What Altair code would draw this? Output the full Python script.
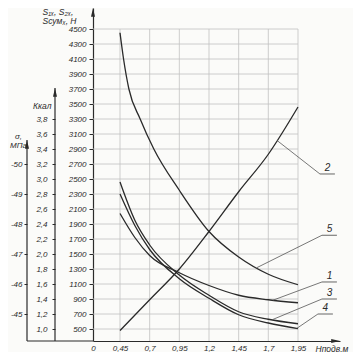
import altair as alt
import pandas as pd
import numpy as np

# ---------------- data ----------------
X_ZERO = 0.2225          # position of the "0" label (broken axis)
X_MAX = 2.304
Y_MIN = 340
Y_MAX = 4780

x_ticks = [0.45, 0.7, 0.95, 1.2, 1.45, 1.7, 1.95]
force_ticks = list(range(500, 4501, 200))
kcal_ticks = [1.0, 1.2, 1.4, 1.6, 1.8, 2.0, 2.2, 2.4, 2.6, 2.8, 3.0, 3.2, 3.4, 3.6, 3.8]
sigma_ticks = [-45, -46, -47, -48, -49, -50]

curve1_x = [0.45, 0.575, 0.7, 0.95, 1.2, 1.45, 1.7, 1.95]
curve1_y = [2040, 1720, 1480, 1250, 1080, 950, 890, 850]
curve2_x = [0.45, 0.7, 0.95, 1.2, 1.45, 1.7, 1.95]
curve2_y = [480, 890, 1300, 1800, 2330, 2830, 3460]
curve3_x = [0.45, 0.575, 0.7, 0.95, 1.2, 1.45, 1.7, 1.95]
curve3_y = [2460, 1950, 1620, 1220, 950, 730, 630, 570]
curve4_x = [0.45, 0.575, 0.7, 0.95, 1.2, 1.45, 1.7, 1.95]
curve4_y = [2300, 1880, 1560, 1170, 910, 690, 580, 505]
curve5_x = [0.45, 0.48, 0.525, 0.62, 0.735, 0.95, 1.2, 1.45, 1.7, 1.95]
curve5_y = [4450, 4100, 3700, 3300, 2900, 2350, 1800, 1460, 1230, 1090]

label_names = ['1', '2', '3', '4', '5']
label_curve_x = [1.739, 1.773, 1.731, 1.94, 1.604]
label_elbow_x = [2.152, 2.135, 2.152, 2.118, 2.152]
label_elbow_y = [1127, 2567, 900, 700, 1750]
label_line_len = 0.126

kcal_axis_top = 3713      # in N-scale units (where the Kcal arrow ends)
sigma_axis_top = 3020

# ---------------- tables ----------------
curves = {'1': (curve1_x, curve1_y), '2': (curve2_x, curve2_y), '3': (curve3_x, curve3_y),
          '4': (curve4_x, curve4_y), '5': (curve5_x, curve5_y)}
rows = []
for name, (xs, ys) in curves.items():
    for xv, yv in zip(xs, ys):
        rows.append({'curve': name, 'x': xv, 'y': yv})
curves_df = pd.DataFrame(rows)

lab_rows = []
for n, sx, ex, ey in zip(label_names, label_curve_x, label_elbow_x, label_elbow_y):
    xs, ys = curves[n]
    sy = float(np.interp(sx, xs, ys))
    lab_rows.append({'name': n, 'sx': sx, 'sy': sy, 'ex': ex, 'ey': ey,
                     'ux': ex + label_line_len, 'tx': ex + label_line_len / 2})
labels_df = pd.DataFrame(lab_rows)

vgrid_df = pd.DataFrame({'x': x_ticks, 'top': max(force_ticks), 'bottom': Y_MIN})
hgrid_df = pd.DataFrame({'y': force_ticks, 'x0': X_ZERO, 'x1': max(x_ticks)})

# ---------------- styling ----------------
W, H = 247, 333
INK = '#2a2a2a'
GRID = '#c2c2c2'
FONT = 'Liberation Sans'
BG = '#fbfbf9'
K_OFF = 38
S_OFF = 66

xscale = alt.Scale(domain=[X_ZERO, X_MAX], nice=False, zero=False)
yscale = alt.Scale(domain=[Y_MIN, Y_MAX], nice=False, zero=False)

x_axis = alt.Axis(
    values=[X_ZERO] + x_ticks,
    labelExpr="datum.value < 0.3 ? '0' : replace(format(datum.value, '.2~f'), '.', ',')",
    grid=False, ticks=False, domainColor=INK, domainWidth=1.2,
    labelPadding=3, labelFont=FONT, labelFontStyle='italic', labelFontSize=8,
    labelColor=INK, labelOverlap=False, labelFlush=False,
    title='Нподв.м', titleX=222, titleY=10, titleAlign='left', titleBaseline='alphabetic',
    titleFont=FONT, titleFontStyle='italic', titleFontWeight='normal', titleFontSize=8.5,
    titleColor=INK)

y_axis = alt.Axis(
    values=force_ticks, format='d', grid=False, domainColor=INK, domainWidth=1.2,
    tickColor=INK, tickSize=4, labelPadding=3, labelFont=FONT, labelFontStyle='italic',
    labelFontSize=8, labelColor=INK, labelOverlap=False, labelFlush=False,
    title=['S₁ₓ, S₂ₓ,', 'Sсумₓ, Н'], titleAngle=0, titleAlign='left', titleBaseline='top',
    titleX=-51, titleY=-1, titleLineHeight=9, titleFont=FONT, titleFontStyle='italic',
    titleFontWeight='normal', titleFontSize=8.5, titleColor=INK)

X = lambda f: alt.X(f, scale=xscale, axis=x_axis)
Y = lambda f: alt.Y(f, scale=yscale, axis=y_axis)

hgrid = alt.Chart(hgrid_df).mark_rule(color=GRID, strokeWidth=0.8).encode(
    x=X('x0:Q'), x2='x1:Q', y=Y('y:Q'))
vgrid = alt.Chart(vgrid_df).mark_rule(color=GRID, strokeWidth=0.8).encode(
    x=X('x:Q'), y=Y('top:Q'), y2='bottom:Q')

lines = alt.Chart(curves_df).mark_line(color=INK, strokeWidth=1.3, interpolate='monotone').encode(
    x=X('x:Q'), y=Y('y:Q'), detail='curve:N')

leaders = alt.Chart(labels_df).mark_rule(color='#555555', strokeWidth=0.8).encode(
    x=X('sx:Q'), y=Y('sy:Q'), x2='ex:Q', y2='ey:Q')
underl = alt.Chart(labels_df).mark_rule(color='#555555', strokeWidth=0.9).encode(
    x=X('ex:Q'), x2='ux:Q', y=Y('ey:Q'))
numbers = alt.Chart(labels_df).mark_text(font=FONT, fontStyle='italic', fontSize=10,
                                         color=INK, baseline='bottom', dy=-1).encode(
    x=X('tx:Q'), y=Y('ey:Q'), text='name:N')

side_df = pd.DataFrame({'kt': [kcal_axis_top], 'st': [sigma_axis_top], 'b': [Y_MIN],
                        'x0': [X_ZERO], 'xm': [X_MAX], 'ym': [Y_MAX]})
kcal_line = alt.Chart(side_df).mark_rule(color=INK, strokeWidth=1.2).encode(
    x=alt.value(-K_OFF), y=Y('kt:Q'), y2='b:Q')
sigma_line = alt.Chart(side_df).mark_rule(color=INK, strokeWidth=1.2).encode(
    x=alt.value(-S_OFF), y=Y('st:Q'), y2='b:Q')
base_line = alt.Chart(side_df).mark_rule(color=INK, strokeWidth=1.2).encode(
    x=alt.value(-S_OFF), x2=alt.value(0), y=Y('b:Q'))

UP = 'M0,0L-0.5,2.2L0.5,2.2Z'
RIGHT = 'M0,0L-2.2,-0.5L-2.2,0.5Z'
arr_kwargs = dict(filled=True, color=INK, size=64, opacity=1, strokeWidth=0)
arrow_main = alt.Chart(side_df).mark_point(shape=UP, **arr_kwargs).encode(
    x=X('x0:Q'), y=Y('ym:Q'))
arrow_x = alt.Chart(side_df).mark_point(shape=RIGHT, **arr_kwargs).encode(
    x=X('xm:Q'), y=Y('b:Q'))
arrow_k = alt.Chart(side_df).mark_point(shape=UP, **arr_kwargs).encode(
    x=alt.value(-K_OFF), y=Y('kt:Q'))
arrow_s = alt.Chart(side_df).mark_point(shape=UP, **arr_kwargs).encode(
    x=alt.value(-S_OFF), y=Y('st:Q'))

main = alt.layer(hgrid, vgrid, lines, leaders, underl, numbers, kcal_line, sigma_line,
                 base_line, arrow_main, arrow_x, arrow_k, arrow_s)

kcal_layer = alt.Chart(pd.DataFrame({'k': kcal_ticks})).mark_point(opacity=0).encode(
    y=alt.Y('k:Q', scale=alt.Scale(domain=[(Y_MIN + 500) / 1000, (Y_MAX + 500) / 1000],
                                   nice=False, zero=False),
            axis=alt.Axis(orient='left', offset=K_OFF, values=kcal_ticks, domain=False, grid=False,
                          labelExpr="replace(format(datum.value, '.1f'), '.', ',')",
                          tickColor=INK, tickSize=3, labelPadding=5, labelFont=FONT,
                          labelFontStyle='italic', labelFontSize=8, labelColor=INK,
                          labelOverlap=False, labelFlush=False,
                          title='Ккал', titleAngle=0, titleAlign='right', titleBaseline='middle',
                          titleX=-4, titleY=97, titleFont=FONT, titleFontStyle='italic',
                          titleFontWeight='normal', titleFontSize=8.5, titleColor=INK)))

s_lo = -45 - (Y_MAX - 700) / 400
s_hi = -45 - (Y_MIN - 700) / 400
sigma_layer = alt.Chart(pd.DataFrame({'s': sigma_ticks})).mark_point(opacity=0).encode(
    y=alt.Y('s:Q', scale=alt.Scale(domain=[s_lo, s_hi], reverse=True, nice=False, zero=False),
            axis=alt.Axis(orient='left', offset=S_OFF, values=sigma_ticks, domain=False, grid=False,
                          labelExpr="'-' + format(abs(datum.value), 'd')",
                          tickColor=INK, tickSize=3, labelPadding=2, labelFont=FONT,
                          labelFontStyle='italic', labelFontSize=8, labelColor=INK,
                          labelOverlap=False, labelFlush=False,
                          title=['σ,', 'МПа'], titleAngle=0, titleAlign='center',
                          titleBaseline='top', titleX=-9, titleY=124, titleLineHeight=9,
                          titleFont=FONT, titleFontStyle='italic', titleFontWeight='normal',
                          titleFontSize=8, titleColor=INK)))

chart = alt.layer(main, kcal_layer, sigma_layer).resolve_scale(y='independent').properties(
    width=W, height=H,
    padding={'left': 85, 'top': 0, 'right': 13, 'bottom': 11},
    autosize=alt.AutoSizeParams(type='none'),
).configure(background=BG).configure_view(stroke=None)

chart.save('out.html', embed_options={'renderer': 'svg', 'actions': False})
